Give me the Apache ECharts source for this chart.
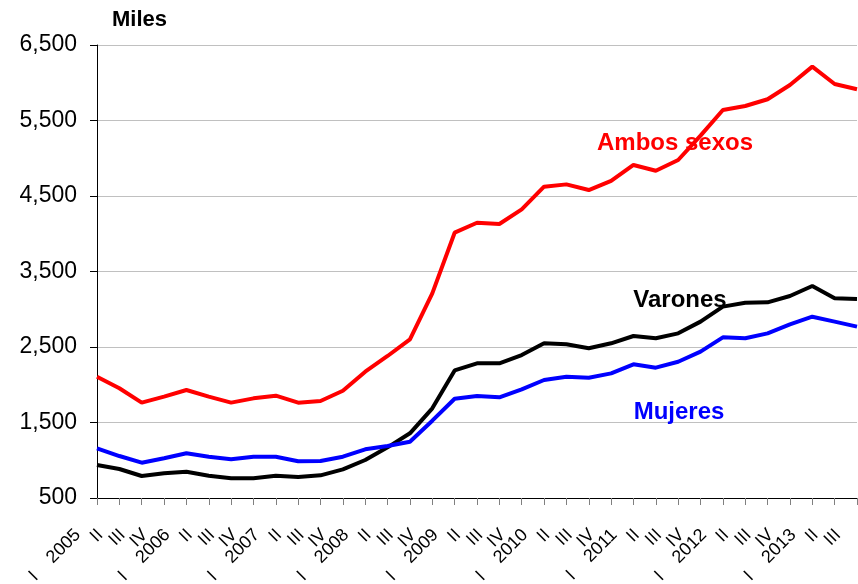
<!DOCTYPE html>
<html>
<head>
<meta charset="utf-8">
<script src="https://cdn.jsdelivr.net/npm/echarts@6/dist/echarts.min.js"></script>
<style>
  html, body { margin: 0; padding: 0; background: #fff; }
  #chart { width: 858px; height: 584px; }
</style>
</head>
<body>
<div id="chart"></div>
<script>
  // trimestres 2005 I .. 2013 III
  var quarters = [
    'I    2005', 'II', 'III', 'IV',
    'I    2006', 'II', 'III', 'IV',
    'I    2007', 'II', 'III', 'IV',
    'I    2008', 'II', 'III', 'IV',
    'I    2009', 'II', 'III', 'IV',
    'I    2010', 'II', 'III', 'IV',
    'I    2011', 'II', 'III', 'IV',
    'I    2012', 'II', 'III', 'IV',
    'I    2013', 'II', 'III'
  ];
  var ambos = [
    2107, 1953, 1763, 1842, 1930, 1842, 1763, 1820, 1855, 1763, 1785, 1921,
    2173, 2381, 2602, 3210, 4014, 4146, 4129, 4323, 4623, 4654, 4579, 4699,
    4911, 4835, 4977, 5300, 5639, 5692, 5781, 5970, 6213, 5984, 5913
  ];
  var varones = [
    937, 884, 791, 827, 848, 795, 761, 761, 795, 778, 800, 880,
    1003, 1171, 1357, 1688, 2190, 2284, 2284, 2394, 2549, 2536, 2483, 2549,
    2646, 2615, 2681, 2836, 3035, 3087, 3092, 3175, 3308, 3145, 3136
  ];
  var mujeres = [
    1158, 1056, 968, 1026, 1092, 1047, 1013, 1047, 1047, 986, 990, 1047,
    1145, 1189, 1246, 1524, 1815, 1851, 1833, 1940, 2063, 2107, 2093, 2151,
    2271, 2226, 2305, 2438, 2628, 2615, 2681, 2800, 2901, 2836, 2770
  ];
  var yTicks = [500, 1500, 2500, 3500, 4500, 5500, 6500];

  var myChart = echarts.init(document.getElementById('chart'));
  var font = 'Liberation Sans, Arial, sans-serif';

  var option = {
    animation: false,
    textStyle: { fontFamily: font },
    grid: { left: 97, right: 1, top: 45, bottom: 86, containLabel: false, outerBoundsMode: 'none' },
    xAxis: {
      type: 'category',
      data: quarters,
      boundaryGap: false,
      axisLine: { lineStyle: { color: '#000', width: 1 } },
      axisTick: { show: true, length: 7, interval: 0, lineStyle: { color: '#808080' } },
      axisLabel: {
        interval: 0,
        rotate: 45,
        margin: 15,
        padding: [0, 27, 0, 0],
        color: '#000',
        fontSize: 18,
        fontFamily: font,
        hideOverlap: false
      },
      splitLine: { show: false }
    },
    yAxis: {
      type: 'value',
      min: 500,
      max: 6500,
      interval: 500,
      axisLine: { show: true, lineStyle: { color: '#000', width: 1 } },
      axisTick: { show: true, length: 7, customValues: yTicks, lineStyle: { color: '#000' } },
      axisLabel: {
        customValues: yTicks,
        margin: 20,
        color: '#000',
        fontSize: 23,
        fontFamily: font,
        formatter: function (v) {
          return v.toLocaleString('en-US');
        }
      },
      splitLine: { show: true, lineStyle: { color: '#c0c0c0', width: 1 } }
    },
    series: [
      {
        name: 'Ambos sexos',
        type: 'line',
        data: ambos,
        symbol: 'none',
        lineStyle: { width: 4, color: '#ff0000' }
      },
      {
        name: 'Varones',
        type: 'line',
        data: varones,
        symbol: 'none',
        lineStyle: { width: 4, color: '#000000' }
      },
      {
        name: 'Mujeres',
        type: 'line',
        data: mujeres,
        symbol: 'none',
        lineStyle: { width: 4, color: '#0000ff' }
      }
    ],
    graphic: [
      {
        type: 'text', left: 112, top: 9,
        style: { text: 'Miles', fontSize: 22, fontWeight: 'bold', fill: '#000', fontFamily: font }
      },
      {
        type: 'text', x: 675, y: 143, z: 100,
        style: { text: 'Ambos sexos', fontSize: 24, fontWeight: 'bold', fill: '#ff0000',
          fontFamily: font, align: 'center', verticalAlign: 'middle' }
      },
      {
        type: 'text', x: 680, y: 300, z: 100,
        style: { text: 'Varones', fontSize: 24, fontWeight: 'bold', fill: '#000',
          fontFamily: font, align: 'center', verticalAlign: 'middle' }
      },
      {
        type: 'text', x: 679, y: 412, z: 100,
        style: { text: 'Mujeres', fontSize: 24, fontWeight: 'bold', fill: '#0000ff',
          fontFamily: font, align: 'center', verticalAlign: 'middle' }
      }
    ]
  };

  myChart.setOption(option);
</script>
</body>
</html>
